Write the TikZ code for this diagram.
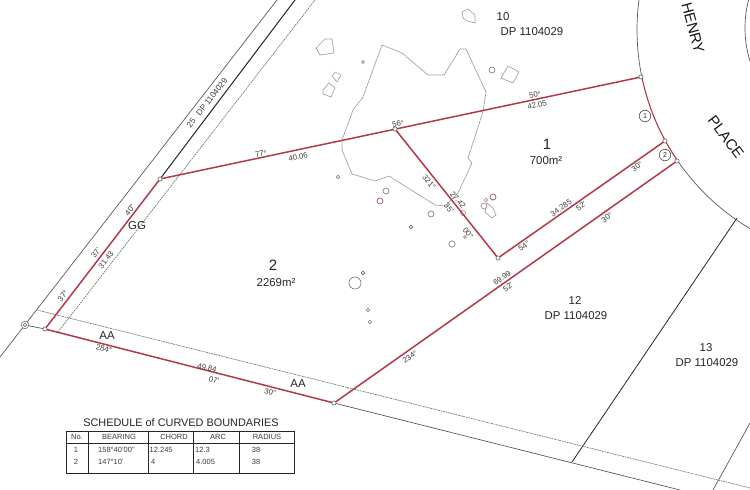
\documentclass[tikz,border=0pt]{standalone}
\usepackage{fontspec}
\setmainfont{Liberation Sans}
\definecolor{bnd}{HTML}{B23A48}
\definecolor{lblc}{HTML}{3C3C3C}
\definecolor{gry}{HTML}{5A5A5A}
\definecolor{tre}{HTML}{969090}
\definecolor{pnk}{HTML}{C08A90}
\definecolor{pur}{HTML}{8A5A6A}
\tikzset{
  redline/.style={draw=bnd,line width=1.5pt},
  greyline/.style={draw=gry,line width=.7pt},
  darkline/.style={draw=black!85,line width=1pt},
  dashline/.style={draw=gry!85,line width=.65pt,dash pattern=on 1.8pt off .8pt},
  outline/.style={draw=tre,line width=.65pt,dash pattern=on 1.6pt off .5pt},
  tree/.style={draw=tre,line width=.65pt,dash pattern=on 1.6pt off .5pt},
  corner/.style={circle,draw=black!70,fill=white,line width=.5pt,inner sep=0pt,minimum size=4.2pt},
  dimlbl/.style={inner sep=0pt,text=lblc,font=\fontsize{7.8}{9}\selectfont},
  lotlbl/.style={inner sep=0pt,text=black!85,font=\fontsize{11.4}{13}\selectfont,align=center},
  biglbl/.style={inner sep=0pt,text=black!85,font=\fontsize{15}{17}\selectfont},
  roadlbl/.style={inner sep=0pt,text=black!90,font=\fontsize{15}{17}\selectfont},
  ref/.style={circle,draw=black!70,fill=white,line width=.6pt,inner sep=0pt,minimum size=11.5pt,text=black!85,font=\fontsize{7}{8}\selectfont},
  tabtxt/.style={inner sep=0pt,text=lblc,font=\fontsize{7.5}{9}\selectfont},
  tabrule/.style={draw=black!85,line width=.8pt},
  circg/.style={draw=gry!85,line width=.6pt},
  circp/.style={draw=pur,line width=.7pt},
  circk/.style={draw=pnk,line width=.7pt},
}
\begin{document}
\begin{tikzpicture}[x=1pt,y=-1pt]
\useasboundingbox (0,0) rectangle (750,490);
\clip (0,0) rectangle (750,490);
\fill[white] (0,0) rectangle (750,490);
% corner coordinates
\coordinate (A) at (45,329);
\coordinate (B) at (160,179);
\coordinate (C) at (641,77);
\coordinate (D) at (395,129);
\coordinate (E) at (498,258);
\coordinate (F) at (665,141);
\coordinate (G) at (677,161);
\coordinate (H) at (334,403);
\coordinate (M) at (25,325);
% road arcs
\draw[greyline] plot[domain=195:168.3,samples=40] ({868+231*cos(\x)},{30+231*sin(\x)});
\draw[greyline] plot[domain=145.6:115,samples=40] ({868+231*cos(\x)},{30+231*sin(\x)});
\draw[greyline] plot[domain=150:210,samples=30] ({857+112*cos(\x)},{28+112*sin(\x)});
% background lot lines
\coordinate (o1) at (0,357); \coordinate (o2) at (277,0);
\draw[greyline] (o1) -- (o2);
\coordinate (o3) at (295,0);
\draw[darkline] (B) -- (o3);
\coordinate (d1) at (58,332); \coordinate (d2) at (315,0);
\draw[dashline] (d1) -- (d2);
\coordinate (d3) at (37,310); \coordinate (d4) at (750,488);
\draw[dashline] (d3) -- (d4);
\coordinate (h2) at (680,490);
\draw[greyline] (H) -- (h2);
\draw[greyline] (M) -- (A);
\coordinate (l1) at (572,462); \coordinate (l2) at (737,218);
\draw[darkline,line width=.8pt] (l1) -- (l2);
\coordinate (l3) at (713,490); \coordinate (l4) at (750,423);
\draw[greyline] (l3) -- (l4);
% vegetation outline
\draw[outline] (382,45) -- (402,53) -- (428,75) -- (444,75) -- (460,49) -- (466,49) -- (486,92) -- (483,112) -- (468,158) -- (472,163) -- (458,193) -- (445,206) -- (435,205) -- (389,176) -- (375,181) -- (352,174) -- (342,150) -- (342,140) -- (353,110) -- (363,97) -- cycle;
\draw[tree] (316,48) -- (325,39) -- (332,39) -- (334,53) -- (320,55) -- cycle;
\draw[tree] (332,76) -- (335,72) -- (341,75) -- (337,82) -- cycle;
\draw[tree] (323,90) -- (329,83) -- (335,88) -- (331,97) -- (323,94) -- cycle;
\draw[tree] (462,12) -- (468,9) -- (475,15) -- (475,23) -- (467,21) -- (463,18) -- cycle;
\draw[tree] (501,78) -- (508,66) -- (519,72) -- (513,83) -- cycle;
\draw[tree] (485,212) -- (487,203) -- (493,208) -- (496,215) -- (492,218) -- cycle;
\draw[circg] (363,62) circle (1.5);
\draw[circg] (492,70) circle (3);
\draw[circg] (386,191) circle (3);
\draw[circp] (380,201) circle (3);
\draw[circg] (431,214) circle (3);
\draw[circp] (411,227) circle (1.8);
\draw[circg] (452,244) circle (3.2);
\draw[circg] (465,237) circle (1.5);
\draw[circk] (463,213) circle (2.5);
\draw[circp] (363,273) circle (1.8);
\draw[circg] (355,283) circle (6);
\draw[circg] (368,310) circle (1.8);
\draw[circg] (370,322) circle (1.8);
\draw[circg] (338,177) circle (1.8);
\draw[circp] (493,197) circle (3);
\draw[circk] (486,200) circle (1.8);
\draw[circk] (484,206) circle (3);
% red boundaries
\draw[redline] (B) -- (C);
\draw[redline] (D) -- (E) -- (F);
\draw[redline] (A) -- (B);
\draw[redline] (A) -- (H) -- (G);
\draw[redline,line width=1.1pt] plot[domain=168.3:145.6,samples=30] ({868+231*cos(\x)},{30+231*sin(\x)});
% survey marks
\node[corner,minimum size=7.5pt,draw=gry] (Mo) at (M) {};
\node[corner,minimum size=3.5pt,draw=gry] (Mi) at (M) {};
\foreach \p/\n in {A/cA,B/cB,C/cC,D/cD,E/cE,F/cF,G/cG,H/cH}
  \node[corner] (\n) at (\p) {};
% curve references
\node[ref] (r1) at (645,116) {1};
\node[ref] (r2) at (665,155) {2};
% lot labels
\node[lotlbl] (t10) at (503,17) {10};
\node[lotlbl] (dp10) at (532,32) {DP 1104029};
\node[lotlbl] (t12) at (575,301) {12};
\node[lotlbl] (dp12) at (576,316) {DP 1104029};
\node[lotlbl] (t13) at (706,348) {13};
\node[lotlbl] (dp13) at (707,363) {DP 1104029};
\node[dimlbl,rotate=52,font=\fontsize{8.2}{10}\selectfont] (dp25) at (207,103) {25\hspace{4pt} DP 1104029};
\node[biglbl] (n1) at (547,144) {1};
\node[lotlbl] (a1) at (546,161) {700m²};
\node[biglbl] (n2) at (273,265) {2};
\node[lotlbl] (a2) at (276,283) {2269m²};
\node[lotlbl,font=\fontsize{11.5}{13}\selectfont] (gg) at (137,226) {GG};
\node[lotlbl,font=\fontsize{11.5}{13}\selectfont] (aa1) at (107,336) {AA};
\node[lotlbl,font=\fontsize{11.5}{13}\selectfont] (aa2) at (298,384) {AA};
\node[roadlbl,rotate=-75] (henry) at (693,28) {HENRY};
\node[roadlbl,rotate=-53] (place) at (726,137) {PLACE};
% dimensions
\node[dimlbl,rotate=12] (e1) at (535,95) {50°};
\node[dimlbl,rotate=12] (e2) at (537,105) {42.05};
\node[dimlbl,rotate=12] (e3) at (398,124) {56°};
\node[dimlbl,rotate=12] (e4) at (261,154) {77°};
\node[dimlbl,rotate=12] (e5) at (298,157) {40.06};
\node[dimlbl,rotate=-51] (e6) at (429,182) {321°};
\node[dimlbl,rotate=-51] (e7) at (458,200) {27.42};
\node[dimlbl,rotate=-51] (e8) at (449,208) {35'};
\node[dimlbl,rotate=-51] (e9) at (468,233) {00"};
\node[dimlbl,rotate=35] (e10) at (524,246) {54°};
\node[dimlbl,rotate=35] (e11) at (561,208) {34.285};
\node[dimlbl,rotate=35] (e12) at (581,206) {52'};
\node[dimlbl,rotate=35] (e13) at (637,167) {30"};
\node[dimlbl,rotate=35] (e14) at (502,278) {69.99};
\node[dimlbl,rotate=35] (e15) at (508,287) {52'};
\node[dimlbl,rotate=35] (e16) at (607,218) {30"};
\node[dimlbl,rotate=35] (e17) at (410,357) {234°};
\node[dimlbl,rotate=-14] (e18) at (270,392) {30"};
\node[dimlbl,rotate=-14] (e19) at (207,368) {49.84};
\node[dimlbl,rotate=-14] (e20) at (214,380) {07'};
\node[dimlbl,rotate=-14] (e21) at (104,349) {284°};
\node[dimlbl,rotate=52] (e22) at (63,296) {37°};
\node[dimlbl,rotate=52] (e23) at (96,253) {37'};
\node[dimlbl,rotate=52] (e24) at (106,260) {31.43};
\node[dimlbl,rotate=52] (e25) at (130,210) {40"};
% schedule
\node[inner sep=0pt,text=black!85,font=\fontsize{10.9}{12}\selectfont] (sched) at (181,423) {SCHEDULE of CURVED BOUNDARIES};
\draw[tabrule] (66,431) rectangle (294,473);
\draw[tabrule] (66,443) -- (294,443);
\foreach \x in {88,148,193,239} \draw[tabrule] (\x,431) -- (\x,473);
\node[tabtxt] (h1) at (77,437) {No.};
\node[tabtxt] (h2t) at (119,437) {BEARING};
\node[tabtxt] (h3) at (174,437) {CHORD};
\node[tabtxt] (h4) at (218,437) {ARC};
\node[tabtxt] (h5) at (267,437) {RADIUS};
\node[tabtxt] (c11) at (76,450) {1};
\node[tabtxt,anchor=west] (c12) at (98,450) {158°40'00"};
\node[tabtxt,anchor=west] (c13) at (149.5,450) {12.245};
\node[tabtxt,anchor=west] (c14) at (195,450) {12.3};
\node[tabtxt] (c15) at (256,450) {38};
\node[tabtxt] (c21) at (76,462) {2};
\node[tabtxt,anchor=west] (c22) at (98,462) {147°10'};
\node[tabtxt,anchor=west] (c23) at (151,462) {4};
\node[tabtxt,anchor=west] (c24) at (196,462) {4.005};
\node[tabtxt] (c25) at (256,462) {38};
\end{tikzpicture}
\end{document}
